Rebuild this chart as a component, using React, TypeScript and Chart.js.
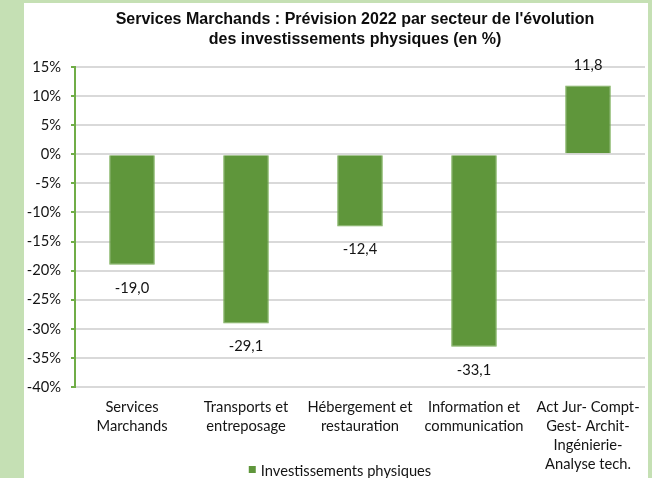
import React, { useEffect, useRef } from "react";
import { Chart, registerables } from "chart.js";

Chart.register(...registerables);

const categories: string[][] = [
  ["Services", "Marchands"],
  ["Transports et", "entreposage"],
  ["Hébergement et", "restauration"],
  ["Information et", "communication"],
  ["Act Jur- Compt-", "Gest- Archit-", "Ingénierie-", "Analyse tech."],
];
const values: number[] = [-19.0, -29.1, -12.4, -33.1, 11.8];
const seriesName = "Investissements physiques";
const titleLines: string[] = [
  "Services Marchands : Prévision 2022 par secteur de l'évolution",
  "des investissements physiques (en %)",
];
const yMin = -40;
const yMax = 15;
const yStep = 5;

const BAR = "#5F963B";
const TEXT = "#141414";
const FONT = "Lato, 'Open Sans', sans-serif";
const FS = 14.7;

export default function App() {
  const ref = useRef<HTMLCanvasElement | null>(null);

  useEffect(() => {
    if (!ref.current) return;
    const decor = {
      id: "decor",
      afterDatasetsDraw(chart: any) {
        const ctx = chart.ctx;
        const meta = chart.getDatasetMeta(0);
        ctx.save();
        ctx.font = `${FS}px ${FONT}`;
        ctx.fillStyle = TEXT;
        ctx.textAlign = "center";
        ctx.textBaseline = "middle";
        meta.data.forEach((bar: any, i: number) => {
          const v = values[i];
          const txt = v.toFixed(1).replace(".", ",");
          const y = v < 0 ? bar.y + 23 : bar.y - 20;
          ctx.fillText(txt, bar.x, y);
        });
        ctx.restore();
      },
      afterDraw(chart: any) {
        const ctx = chart.ctx;
        ctx.save();
        // title
        ctx.font = `bold 16px 'Liberation Sans', Arial, sans-serif`;
        ctx.fillStyle = "#0d0d0d";
        ctx.textAlign = "center";
        ctx.textBaseline = "middle";
        ctx.fillText(titleLines[0], 355, 20);
        ctx.fillText(titleLines[1], 355, 40);
        // legend
        ctx.font = `${FS}px ${FONT}`;
        const tw = ctx.measureText(seriesName).width;
        const total = 7 + 5 + tw;
        const x0 = 340 - total / 2;
        ctx.fillStyle = BAR;
        ctx.fillRect(x0, 466, 7, 7);
        ctx.fillStyle = TEXT;
        ctx.textAlign = "left";
        ctx.fillText(seriesName, x0 + 12, 471);
        ctx.restore();
      },
    };

    const chart = new Chart(ref.current, {
      type: "bar",
      data: {
        labels: categories,
        datasets: [
          {
            label: seriesName,
            data: values,
            backgroundColor: BAR,
            borderColor: "#78AD55",
            borderWidth: 1,
            barPercentage: 0.4,
            categoryPercentage: 1,
          },
        ],
      },
      options: {
        animation: false,
        responsive: false,
        devicePixelRatio: 1,
        layout: { padding: { top: 67, right: 7, bottom: 0, left: 0 } },
        plugins: {
          legend: { display: false },
          title: { display: false },
          tooltip: { enabled: false },
        },
        scales: {
          x: {
            grid: { display: false, drawTicks: false },
            border: { display: false },
            ticks: {
              autoSkip: false,
              maxRotation: 0,
              minRotation: 0,
              padding: 11,
              color: TEXT,
              font: { family: FONT, size: FS, lineHeight: 19 / FS } as any,
            },
            afterFit(s: any) {
              s.height = 91;
            },
          },
          y: {
            min: yMin,
            max: yMax,
            ticks: {
              stepSize: yStep,
              padding: 10,
              color: TEXT,
              font: { family: FONT, size: FS },
              callback: (v: any) => `${v}%`,
            },
            grid: {
              color: "#D9D9D9",
              lineWidth: 2,
              tickLength: 4,
              tickColor: "#70AD47",
              tickWidth: 2,
            },
            border: { display: true, color: "#70AD47", width: 2 },
            afterFit(s: any) {
              s.width = 75;
            },
          },
        },
      },
      plugins: [decor],
    });
    return () => chart.destroy();
  }, []);

  return (
    <div
      style={{
        position: "fixed",
        left: 0,
        top: 0,
        width: 652,
        height: 478,
        background: "#C5E0B4",
        overflow: "hidden",
      }}
    >
      <div
        style={{
          position: "absolute",
          left: 24,
          top: 3,
          width: 624,
          height: 475,
          background: "#ffffff",
        }}
      />
      <canvas
        ref={ref}
        width={652}
        height={478}
        style={{ position: "absolute", left: 0, top: 0, width: 652, height: 478 }}
      />
    </div>
  );
}
